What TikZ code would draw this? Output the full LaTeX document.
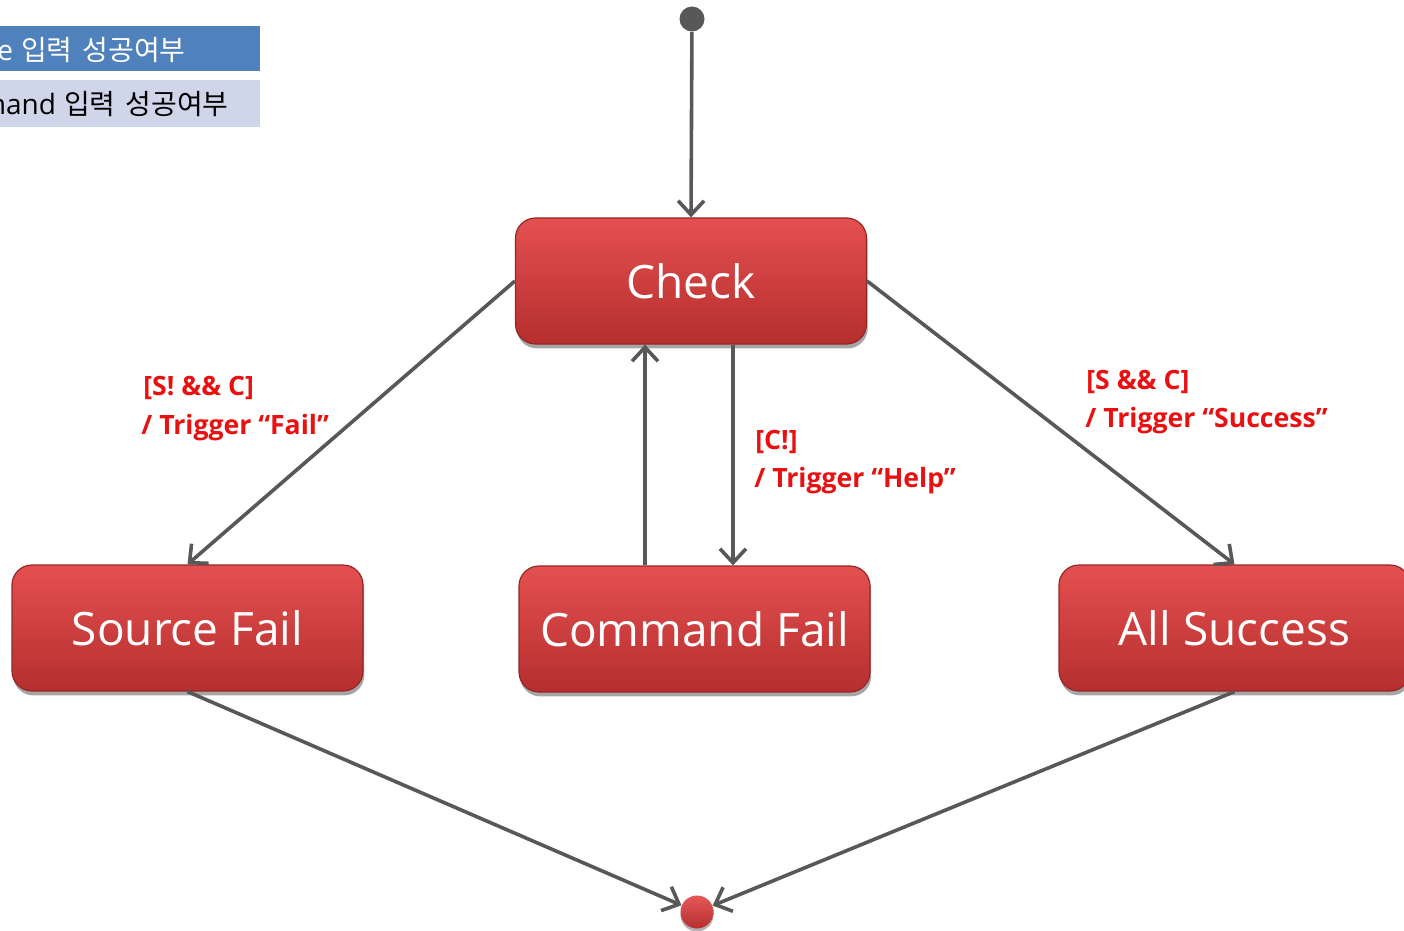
\documentclass[tikz,border=0pt]{standalone}
\usepackage{fontspec}
\setmainfont{Open Sans}
\newfontfamily\krfont{Noto Sans CJK KR}
\usetikzlibrary{arrows.meta,shadows,calc}

\definecolor{wire}{RGB}{88,88,88}
\definecolor{stateTop}{RGB}{228,80,80}
\definecolor{stateBot}{RGB}{182,46,46}
\definecolor{stateEdge}{RGB}{150,38,38}
\definecolor{guardRed}{RGB}{232,16,16}
\definecolor{legBlue}{RGB}{79,129,189}
\definecolor{legPale}{RGB}{208,214,234}

\tikzset{
  state/.style={rectangle, rounded corners=10pt,
    top color=stateTop, bottom color=stateBot, draw=stateEdge, line width=0.6pt,
    minimum width=175.5pt, minimum height=63pt, inner sep=0pt,
    text=white, font=\fontsize{23}{28}\selectfont,
    drop shadow={shadow xshift=0.6pt, shadow yshift=-2.2pt, opacity=0.35, fill=black}},
  flow/.style={draw=wire, line width=1.8pt, -{Straight Barb[length=7pt,width=13pt,line width=1.8pt]}},
  guard/.style={text=guardRed, font=\bfseries\fontsize{13.3}{16}\selectfont, inner sep=0pt},
  legbox/.style={rectangle, inner sep=0pt, minimum width=400pt},
  legtext/.style={font=\fontsize{14}{17}\selectfont, inner sep=0pt, anchor=base east},
}

\begin{document}
\begin{tikzpicture}[x=0.5pt,y=-0.5pt]
\useasboundingbox (0,0) rectangle (1404,931);

% legend strip, running off the left edge
\begin{scope}
  \clip (0,0) rectangle (1404,931);
  \node (legsrcbox) [legbox, fill=legBlue, minimum height=22.5pt, anchor=east] at (260,48.5) {};
  \node (legcmdbox) [legbox, fill=legPale, minimum height=23.5pt, anchor=east] at (260,103.5) {};
  \node (legsrc) [legtext, text=white] at (186,61) {Source\hspace{4pt}{\krfont 입력\hspace{5pt}성공여부}};
  \node (legcmd) [legtext, text=black] at (229,115) {Command\hspace{4pt}{\krfont 입력\hspace{5pt}성공여부}};
\end{scope}

% pseudo states
\node (start) [circle, fill=wire, minimum size=12.5pt, inner sep=0pt] at (692,19) {};
\node (stop) [circle, inner sep=0pt, minimum size=16.5pt,
  top color=stateTop!95!white, bottom color=stateBot,
  drop shadow={shadow xshift=0pt, shadow yshift=-1.5pt, opacity=0.3, fill=black}] at (697,912) {};

% states
\node (check) [state] at (691,281) {Check};
\node (sfail) [state] at (187.5,628) {Source Fail};
\node (cfail) [state] at (694.5,629) {Command Fail};
\node (allok) [state] at (1234.5,628) {All Success};

% transitions
\draw[flow] (start) -- (check.north);
\draw[flow] (check.west) -- (sfail.north);
\draw[flow] (check.east) -- (allok.north);
\draw[flow] ([xshift=-24.75pt]cfail.north) -- ([xshift=-24.75pt]cfail.north |- check.south);
\draw[flow] ([xshift=19.25pt]cfail.north |- check.south) -- ([xshift=19.25pt]cfail.north);
\draw[flow] (sfail.south) -- (stop);
\draw[flow] (allok.south) -- (stop);

% guards and actions
\node (gfail1) [guard, anchor=base west] at (143,395) {[S! \&\& C]};
\node (gfail2) [guard, anchor=base west] at (141,434) {/ Trigger “Fail”};
\node (ghelp1) [guard, anchor=base west] at (755,449) {[C!]};
\node (ghelp2) [guard, anchor=base west] at (754,487) {/ Trigger “Help”};
\node (gok1) [guard, anchor=base west] at (1086,389) {[S \&\& C]};
\node (gok2) [guard, anchor=base west] at (1085,427) {/ Trigger “Success”};
\end{tikzpicture}
\end{document}
